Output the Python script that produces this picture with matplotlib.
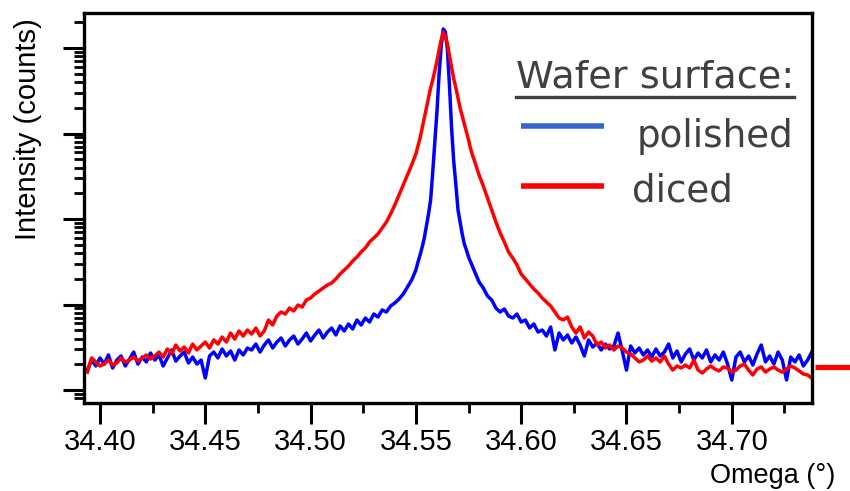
import numpy as np
import matplotlib
matplotlib.use("Agg")
import matplotlib.pyplot as plt
from matplotlib.lines import Line2D
from matplotlib.ticker import MultipleLocator, LogLocator, NullFormatter, FormatStrFormatter

# Omega sampling (deg): coarse wings, fine around the peak
omega = np.r_[np.linspace(34.394, 34.550, 79),
              np.linspace(34.551, 34.577, 27),
              np.linspace(34.578, 34.738, 81)]

polished = [
    # 34.394 .. 34.470
    17.1, 22.4, 19.1, 23.7, 20.1, 25.7, 18.1, 22.4, 25.0, 19.1, 23.0, 27.8, 20.1,
    24.3, 21.3, 27.1, 22.4, 25.7, 19.1, 23.7, 29.4, 21.8, 25.0, 27.8, 20.7, 24.3,
    20.1, 22.4, 13.8, 25.0, 27.8, 23.7, 30.2, 25.0, 28.6, 22.4, 29.4, 25.7, 31.0,
    # 34.472 .. 34.550
    29.4, 34.5, 27.8, 33.6, 38.5, 31.0, 36.4, 40.6, 32.7, 38.5, 42.8, 34.5, 39.5,
    46.4, 37.4, 44.0, 50.3, 40.6, 47.7, 53.1, 44.0, 56.1, 49.0, 59.2, 51.7, 65.9,
    57.6, 69.5, 62.4, 77.4, 71.4, 86.3, 81.7, 96.1, 104.2, 116.0, 132.7, 160.3,
    193.6, 253.4,
    # 34.551 .. 34.577
    314, 380, 471, 600, 829, 1146, 1671, 3551, 7968, 17880, 48440, 102700, 166900,
    153900, 94760, 34130, 11010, 4650, 2502, 1276, 924, 668, 511, 434, 360, 314, 275,
    # 34.578 .. 34.738
    240.1, 183.4, 156.1, 125.8, 112.9, 91.0, 81.7, 88.6, 73.4, 69.5, 77.4, 62.4,
    65.9, 53.1, 59.2, 47.7, 50.3, 42.8, 54.6, 29.4, 46.4, 38.5, 44.0, 35.5, 41.7,
    33.6, 25.0, 38.5, 31.8, 35.5, 29.4, 34.5, 30.2, 32.7, 46.4, 28.6, 17.1, 32.7,
    27.1, 31.0, 25.7, 29.4, 24.3, 30.2, 25.0, 27.8, 34.5, 23.7, 28.6, 21.3, 26.4,
    30.2, 22.4, 27.1, 23.7, 29.4, 21.3, 25.7, 22.4, 27.8, 20.1, 13.1, 24.3, 27.8,
    21.3, 25.0, 19.6, 26.4, 33.6, 21.3, 25.0, 20.1, 27.8, 22.4, 13.1, 24.3, 21.3,
    25.7, 19.1, 22.4, 27.8,
]

diced = [
    # 34.394 .. 34.470
    16.2, 23.7, 21.3, 19.1, 20.1, 22.4, 19.6, 20.7, 23.7, 21.3, 22.4, 24.3, 21.8,
    23.7, 25.7, 23.0, 25.0, 27.8, 24.3, 30.2, 26.4, 33.6, 28.6, 31.8, 27.1, 34.5,
    29.4, 32.7, 36.4, 31.0, 38.5, 34.5, 41.7, 36.4, 46.4, 39.5, 49.0, 42.8, 50.3,
    # 34.472 .. 34.550
    45.2, 53.1, 42.8, 49.0, 65.9, 57.6, 73.4, 81.7, 77.4, 91.0, 84.0, 98.7, 93.5,
    112.9, 119.2, 132.7, 143.9, 156.1, 169.2, 178.6, 198.9, 227.5, 253.4, 282.2,
    322.9, 359.7, 411.7, 458.4, 538.8, 600.2, 668.3, 785.9, 923.5, 1146, 1460,
    1911, 2502, 3275, 4287, 5769,
    # 34.551 .. 34.577
    7153, 8874, 11620, 15210, 19910, 26070, 34130, 42340, 53950, 70630, 94760,
    124100, 153900, 138200, 111400, 80800, 58500, 43490, 34130, 26070, 19910,
    16050, 12940, 10430, 8410, 6598, 5465,
    # 34.578 .. 34.738
    4650, 3275, 2436, 1763, 1276, 924, 687, 539, 412, 350, 290, 227.5, 198.9,
    173.8, 151.9, 136.4, 119.2, 107.0, 96.1, 81.7, 69.5, 65.9, 71.4, 54.6, 46.4,
    54.6, 40.6, 47.7, 42.8, 33.6, 36.4, 31.0, 33.6, 29.4, 32.7, 31.0, 27.8, 26.4,
    23.7, 21.3, 22.4, 25.0, 21.8, 23.7, 21.3, 25.0, 20.1, 17.1, 19.1, 18.1, 19.6,
    18.1, 22.4, 17.1, 15.8, 17.6, 19.1, 17.6, 16.7, 18.6, 18.1, 16.2, 17.1, 19.1,
    20.1, 17.1, 15.0, 17.6, 18.6, 16.2, 17.6, 18.6, 17.1, 16.2, 17.6, 19.1, 18.1,
    16.7, 15.4, 15.0, 13.8,
]

series_labels = ["polished", "diced"]
legend_title = "Wafer surface:"
x_ticks = [34.40, 34.45, 34.50, 34.55, 34.60, 34.65, 34.70]

W, H = 850, 491
fig = plt.figure(figsize=(8.5, 4.91), dpi=100)
ax = fig.add_axes([84 / W, 1 - 403 / H, (812 - 84) / W, (403 - 13) / H])

ax.plot(omega, polished, color="#0000ff", lw=2.5, solid_joinstyle="round")
ax.plot(omega, diced, color="#ff0000", lw=2.5, solid_joinstyle="round")

ax.set_yscale("log")
ax.set_xlim(34.3924, 34.7381)
ax.set_ylim(7.05, 2.567e5)

tick_font = dict(family=["Liberation Sans", "DejaVu Sans"], size=21)
ax.set_xticks(x_ticks)
ax.xaxis.set_minor_locator(MultipleLocator(0.025))
ax.xaxis.set_major_formatter(FormatStrFormatter("%.2f"))
for lab in ax.get_xticklabels():
    lab.set_fontfamily(tick_font["family"])
    lab.set_fontsize(tick_font["size"])

ax.yaxis.set_major_locator(LogLocator(base=10, numticks=20))
ax.yaxis.set_minor_locator(LogLocator(base=10, subs=np.arange(2, 10), numticks=20))
ax.yaxis.set_major_formatter(NullFormatter())
ax.yaxis.set_minor_formatter(NullFormatter())

for s in ax.spines.values():
    s.set_linewidth(2.4)
ax.tick_params(which="major", direction="out", length=15, width=2.2, pad=3)
ax.tick_params(which="minor", direction="out", length=7.5, width=2.0)

fig.text(28 / W, 1 - 129 / H, "Intensity (counts)", rotation=90, ha="center", va="center",
         family=["Liberation Sans", "DejaVu Sans"], fontsize=21)
fig.text(835 / W, 1 - 476 / H, "Omega (°)", ha="right", va="center",
         family=["Liberation Sans", "DejaVu Sans"], fontsize=19.5)

# legend drawn by hand
gray = "#404040"
leg_font = ["DejaVu Sans"]
fig.text(516 / W, 1 - 88 / H, legend_title, ha="left", va="baseline", color=gray,
         family=leg_font, fontsize=27.5)
fig.add_artist(Line2D([516 / W, 794 / W], [1 - 97 / H, 1 - 97 / H], color=gray, lw=2.4,
                      transform=fig.transFigure))
fig.add_artist(Line2D([521 / W, 604 / W], [1 - 125.5 / H, 1 - 125.5 / H], color="#3366cc",
                      lw=4.0, transform=fig.transFigure, solid_capstyle="butt"))
fig.add_artist(Line2D([521 / W, 604 / W], [1 - 185.5 / H, 1 - 185.5 / H], color="#ff0000",
                      lw=4.0, transform=fig.transFigure, solid_capstyle="butt"))
fig.text(637 / W, 1 - 147 / H, series_labels[0], ha="left", va="baseline", color=gray,
         family=leg_font, fontsize=26.8)
fig.text(632 / W, 1 - 202 / H, series_labels[1], ha="left", va="baseline", color=gray,
         family=leg_font, fontsize=26.8)
# red stub at right edge
fig.add_artist(Line2D([815 / W, 850 / W], [1 - 367 / H, 1 - 367 / H], color="#ff0000",
                      lw=3.8, transform=fig.transFigure, solid_capstyle="butt"))

fig.savefig("out.png", dpi=100)
